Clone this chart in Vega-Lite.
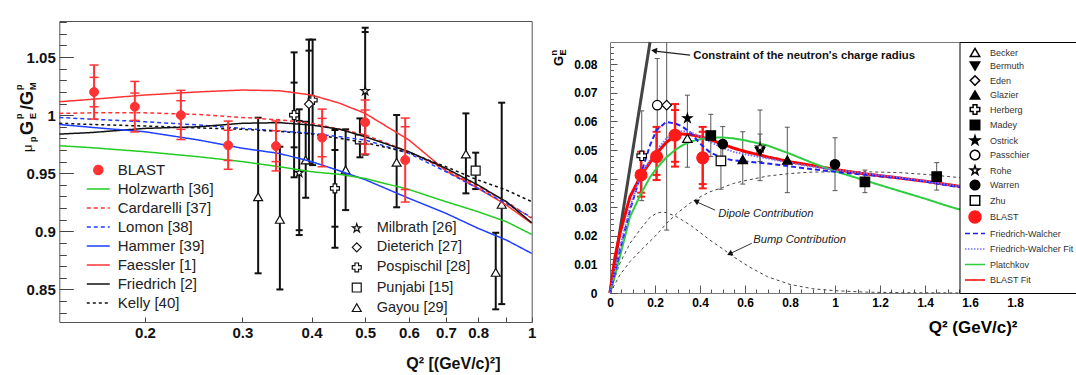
{
"$schema": "https://vega.github.io/schema/vega-lite/v6.json",
"width": 1076, "height": 375, "padding": 0, "autosize": {"type": "none"},
"background": "white",
"config": {"font": "Liberation Sans", "view": {"stroke": null}, "axis": {"grid": false, "labelFlush": false, "labelOverlap": false}},
"datasets": {
"lcurves": [
{"model":"Faessler [1]","q":0.14,"v":1.0115},{"model":"Faessler [1]","q":0.16,"v":1.0136},{"model":"Faessler [1]","q":0.2,"v":1.0173},{"model":"Faessler [1]","q":0.25,"v":1.02},{"model":"Faessler [1]","q":0.3,"v":1.0216},{"model":"Faessler [1]","q":0.35,"v":1.021},{"model":"Faessler [1]","q":0.4,"v":1.0173},{"model":"Faessler [1]","q":0.45,"v":1.0102},{"model":"Faessler [1]","q":0.5,"v":1.0015},{"model":"Faessler [1]","q":0.6,"v":0.9786},{"model":"Faessler [1]","q":0.7,"v":0.952},{"model":"Faessler [1]","q":0.8,"v":0.937},{"model":"Faessler [1]","q":0.9,"v":0.9226},{"model":"Faessler [1]","q":1.0,"v":0.9069},
{"model":"Cardarelli [37]","q":0.14,"v":1.0015},{"model":"Cardarelli [37]","q":0.16,"v":1.002},{"model":"Cardarelli [37]","q":0.2,"v":1.002},{"model":"Cardarelli [37]","q":0.25,"v":1.0005},{"model":"Cardarelli [37]","q":0.3,"v":0.998},{"model":"Cardarelli [37]","q":0.35,"v":0.996},{"model":"Cardarelli [37]","q":0.4,"v":0.993},{"model":"Cardarelli [37]","q":0.45,"v":0.9878},{"model":"Cardarelli [37]","q":0.5,"v":0.983},{"model":"Cardarelli [37]","q":0.6,"v":0.9685},{"model":"Cardarelli [37]","q":0.7,"v":0.9528},{"model":"Cardarelli [37]","q":0.8,"v":0.9384},{"model":"Cardarelli [37]","q":0.9,"v":0.9255},{"model":"Cardarelli [37]","q":1.0,"v":0.9112},
{"model":"Lomon [38]","q":0.14,"v":0.998},{"model":"Lomon [38]","q":0.16,"v":0.9965},{"model":"Lomon [38]","q":0.2,"v":0.9943},{"model":"Lomon [38]","q":0.25,"v":0.9915},{"model":"Lomon [38]","q":0.3,"v":0.9886},{"model":"Lomon [38]","q":0.35,"v":0.9863},{"model":"Lomon [38]","q":0.4,"v":0.9843},{"model":"Lomon [38]","q":0.45,"v":0.9814},{"model":"Lomon [38]","q":0.5,"v":0.9786},{"model":"Lomon [38]","q":0.6,"v":0.9671},{"model":"Lomon [38]","q":0.7,"v":0.9513},{"model":"Lomon [38]","q":0.8,"v":0.937},{"model":"Lomon [38]","q":0.9,"v":0.924},{"model":"Lomon [38]","q":1.0,"v":0.912},
{"model":"Kelly [40]","q":0.14,"v":0.993},{"model":"Kelly [40]","q":0.16,"v":0.992},{"model":"Kelly [40]","q":0.2,"v":0.9906},{"model":"Kelly [40]","q":0.25,"v":0.989},{"model":"Kelly [40]","q":0.3,"v":0.9878},{"model":"Kelly [40]","q":0.35,"v":0.986},{"model":"Kelly [40]","q":0.4,"v":0.9837},{"model":"Kelly [40]","q":0.45,"v":0.98},{"model":"Kelly [40]","q":0.5,"v":0.9763},{"model":"Kelly [40]","q":0.6,"v":0.9677},{"model":"Kelly [40]","q":0.7,"v":0.9556},{"model":"Kelly [40]","q":0.8,"v":0.9441},{"model":"Kelly [40]","q":0.9,"v":0.9355},{"model":"Kelly [40]","q":1.0,"v":0.9255},
{"model":"Friedrich [2]","q":0.14,"v":0.9837},{"model":"Friedrich [2]","q":0.16,"v":0.985},{"model":"Friedrich [2]","q":0.2,"v":0.9886},{"model":"Friedrich [2]","q":0.25,"v":0.99},{"model":"Friedrich [2]","q":0.3,"v":0.993},{"model":"Friedrich [2]","q":0.35,"v":0.9935},{"model":"Friedrich [2]","q":0.4,"v":0.9915},{"model":"Friedrich [2]","q":0.45,"v":0.9878},{"model":"Friedrich [2]","q":0.5,"v":0.9814},{"model":"Friedrich [2]","q":0.6,"v":0.9685},{"model":"Friedrich [2]","q":0.7,"v":0.9542},{"model":"Friedrich [2]","q":0.8,"v":0.9398},{"model":"Friedrich [2]","q":0.9,"v":0.9255},{"model":"Friedrich [2]","q":1.0,"v":0.9074},
{"model":"Hammer [39]","q":0.14,"v":0.992},{"model":"Hammer [39]","q":0.16,"v":0.9895},{"model":"Hammer [39]","q":0.2,"v":0.9857},{"model":"Hammer [39]","q":0.25,"v":0.9786},{"model":"Hammer [39]","q":0.3,"v":0.9715},{"model":"Hammer [39]","q":0.35,"v":0.967},{"model":"Hammer [39]","q":0.4,"v":0.96},{"model":"Hammer [39]","q":0.45,"v":0.952},{"model":"Hammer [39]","q":0.5,"v":0.9445},{"model":"Hammer [39]","q":0.6,"v":0.9284},{"model":"Hammer [39]","q":0.7,"v":0.9155},{"model":"Hammer [39]","q":0.8,"v":0.9026},{"model":"Hammer [39]","q":0.9,"v":0.8925},{"model":"Hammer [39]","q":1.0,"v":0.881},
{"model":"Holzwarth [36]","q":0.14,"v":0.9737},{"model":"Holzwarth [36]","q":0.16,"v":0.972},{"model":"Holzwarth [36]","q":0.2,"v":0.9685},{"model":"Holzwarth [36]","q":0.25,"v":0.9642},{"model":"Holzwarth [36]","q":0.3,"v":0.96},{"model":"Holzwarth [36]","q":0.35,"v":0.9556},{"model":"Holzwarth [36]","q":0.4,"v":0.9513},{"model":"Holzwarth [36]","q":0.45,"v":0.949},{"model":"Holzwarth [36]","q":0.5,"v":0.9455},{"model":"Holzwarth [36]","q":0.6,"v":0.936},{"model":"Holzwarth [36]","q":0.7,"v":0.9255},{"model":"Holzwarth [36]","q":0.8,"v":0.9169},{"model":"Holzwarth [36]","q":0.9,"v":0.9083},{"model":"Holzwarth [36]","q":1.0,"v":0.8974}
],
"lblast": [
{"model":"BLAST","q":0.1618,"v":1.0199,"lo":0.9966,"hi":1.0431,"ilo":1.0072,"ihi":1.0325},
{"model":"BLAST","q":0.1917,"v":1.0072,"lo":0.9855,"hi":1.029,"ilo":0.9955,"ihi":1.019},
{"model":"BLAST","q":0.2322,"v":1.0,"lo":0.979,"hi":1.0213,"ilo":0.9878,"ihi":1.0124},
{"model":"BLAST","q":0.2827,"v":0.974,"lo":0.9534,"hi":0.9949,"ilo":0.961,"ihi":0.987},
{"model":"BLAST","q":0.345,"v":0.9734,"lo":0.952,"hi":0.995,"ilo":0.96,"ihi":0.9866},
{"model":"BLAST","q":0.418,"v":0.9806,"lo":0.9556,"hi":1.0052,"ilo":0.9642,"ihi":0.9972},
{"model":"BLAST","q":0.5,"v":0.9938,"lo":0.9665,"hi":1.013,"ilo":0.975,"ihi":1.0044},
{"model":"BLAST","q":0.5907,"v":0.9614,"lo":0.9252,"hi":0.9975,"ilo":0.936,"ihi":0.99}
],
"lexp": [
{"exp":"Gayou [29]","q":0.3203,"v":0.9298,"lo":0.8639,"hi":0.9978},
{"exp":"Gayou [29]","q":0.3506,"v":0.9103,"lo":0.85,"hi":0.9728},
{"exp":"Gayou [29]","q":0.3904,"v":0.9614,"lo":0.9289,"hi":0.9943},
{"exp":"Gayou [29]","q":0.461,"v":0.9528,"lo":0.9183,"hi":0.9878},
{"exp":"Gayou [29]","q":0.57,"v":0.9594,"lo":0.9207,"hi":1.0001},
{"exp":"Gayou [29]","q":0.7605,"v":0.9665,"lo":0.9327,"hi":1.0015},
{"exp":"Gayou [29]","q":0.8827,"v":0.9232,"lo":0.8374,"hi":1.0107},
{"exp":"Gayou [29]","q":0.861,"v":0.8647,"lo":0.8329,"hi":0.8988},
{"exp":"Punjabi [15]","q":0.792,"v":0.9522,"lo":0.9364,"hi":0.9677},
{"exp":"Punjabi [15]","q":0.4892,"v":0.9792,"lo":0.9637,"hi":0.9972},
{"exp":"Pospischil [28]","q":0.372,"v":1.0,"lo":0.9465,"hi":1.054,"ilo":0.9723,"ihi":1.028},
{"exp":"Pospischil [28]","q":0.4409,"v":0.937,"lo":0.8859,"hi":0.9872,"ilo":0.904,"ihi":0.97},
{"exp":"Pospischil [28]","q":0.4018,"v":1.013,"lo":0.957,"hi":1.065},
{"exp":"Dieterich [27]","q":0.3957,"v":1.0095,"lo":0.9585,"hi":1.065,"ihi":1.0555},
{"exp":"Milbrath [26]","q":0.38,"v":0.9504,"lo":0.8968,"hi":1.005,"ilo":0.901,"ihi":0.995},
{"exp":"Milbrath [26]","q":0.5,"v":1.0207,"lo":0.966,"hi":1.0752,"ihi":1.0715}
],
"rcurves": [
{"series":"BLAST Fit","x":0,"y":0},{"series":"BLAST Fit","x":0.022,"y":0.0125},{"series":"BLAST Fit","x":0.044,"y":0.0208},{"series":"BLAST Fit","x":0.089,"y":0.0337},{"series":"BLAST Fit","x":0.138,"y":0.0412},{"series":"BLAST Fit","x":0.178,"y":0.0457},{"series":"BLAST Fit","x":0.207,"y":0.0488},{"series":"BLAST Fit","x":0.25,"y":0.0527},{"series":"BLAST Fit","x":0.289,"y":0.0549},{"series":"BLAST Fit","x":0.32,"y":0.0556},{"series":"BLAST Fit","x":0.356,"y":0.0554},{"series":"BLAST Fit","x":0.4,"y":0.0547},{"series":"BLAST Fit","x":0.444,"y":0.0537},{"series":"BLAST Fit","x":0.5,"y":0.0521},{"series":"BLAST Fit","x":0.548,"y":0.0507},{"series":"BLAST Fit","x":0.6,"y":0.0495},{"series":"BLAST Fit","x":0.7,"y":0.0476},{"series":"BLAST Fit","x":0.8,"y":0.0459},{"series":"BLAST Fit","x":0.9,"y":0.0446},{"series":"BLAST Fit","x":1.0,"y":0.0432},{"series":"BLAST Fit","x":1.14,"y":0.0416},{"series":"BLAST Fit","x":1.29,"y":0.0402},{"series":"BLAST Fit","x":1.4,"y":0.0391},{"series":"BLAST Fit","x":1.51,"y":0.0378},{"series":"BLAST Fit","x":1.6,"y":0.0368},
{"series":"Platchkov","x":0,"y":0},{"series":"Platchkov","x":0.022,"y":0.006},{"series":"Platchkov","x":0.044,"y":0.0127},{"series":"Platchkov","x":0.089,"y":0.0267},{"series":"Platchkov","x":0.138,"y":0.0348},{"series":"Platchkov","x":0.178,"y":0.0405},{"series":"Platchkov","x":0.207,"y":0.0436},{"series":"Platchkov","x":0.25,"y":0.0474},{"series":"Platchkov","x":0.289,"y":0.05},{"series":"Platchkov","x":0.32,"y":0.0516},{"series":"Platchkov","x":0.356,"y":0.0529},{"series":"Platchkov","x":0.4,"y":0.0538},{"series":"Platchkov","x":0.444,"y":0.0543},{"series":"Platchkov","x":0.5,"y":0.0544},{"series":"Platchkov","x":0.548,"y":0.0541},{"series":"Platchkov","x":0.6,"y":0.0534},{"series":"Platchkov","x":0.7,"y":0.0516},{"series":"Platchkov","x":0.8,"y":0.0487},{"series":"Platchkov","x":0.9,"y":0.0455},{"series":"Platchkov","x":1.0,"y":0.0426},{"series":"Platchkov","x":1.14,"y":0.0392},{"series":"Platchkov","x":1.29,"y":0.0356},{"series":"Platchkov","x":1.4,"y":0.033},{"series":"Platchkov","x":1.51,"y":0.0302},{"series":"Platchkov","x":1.6,"y":0.0282},
{"series":"Friedrich-Walcher","x":0,"y":0},{"series":"Friedrich-Walcher","x":0.022,"y":0.0072},{"series":"Friedrich-Walcher","x":0.044,"y":0.015},{"series":"Friedrich-Walcher","x":0.089,"y":0.029},{"series":"Friedrich-Walcher","x":0.138,"y":0.0418},{"series":"Friedrich-Walcher","x":0.178,"y":0.0517},{"series":"Friedrich-Walcher","x":0.207,"y":0.057},{"series":"Friedrich-Walcher","x":0.25,"y":0.0598},{"series":"Friedrich-Walcher","x":0.289,"y":0.0593},{"series":"Friedrich-Walcher","x":0.32,"y":0.0583},{"series":"Friedrich-Walcher","x":0.356,"y":0.0562},{"series":"Friedrich-Walcher","x":0.4,"y":0.0523},{"series":"Friedrich-Walcher","x":0.444,"y":0.0492},{"series":"Friedrich-Walcher","x":0.5,"y":0.0472},{"series":"Friedrich-Walcher","x":0.548,"y":0.0464},{"series":"Friedrich-Walcher","x":0.6,"y":0.046},{"series":"Friedrich-Walcher","x":0.7,"y":0.0453},{"series":"Friedrich-Walcher","x":0.8,"y":0.0443},{"series":"Friedrich-Walcher","x":0.9,"y":0.0433},{"series":"Friedrich-Walcher","x":1.0,"y":0.0424},{"series":"Friedrich-Walcher","x":1.14,"y":0.0413},{"series":"Friedrich-Walcher","x":1.29,"y":0.0401},{"series":"Friedrich-Walcher","x":1.4,"y":0.039},{"series":"Friedrich-Walcher","x":1.51,"y":0.0375},{"series":"Friedrich-Walcher","x":1.6,"y":0.0366},
{"series":"Friedrich-Walcher Fit","x":0,"y":0},{"series":"Friedrich-Walcher Fit","x":0.022,"y":0.008},{"series":"Friedrich-Walcher Fit","x":0.044,"y":0.016},{"series":"Friedrich-Walcher Fit","x":0.089,"y":0.03},{"series":"Friedrich-Walcher Fit","x":0.138,"y":0.0418},{"series":"Friedrich-Walcher Fit","x":0.178,"y":0.0465},{"series":"Friedrich-Walcher Fit","x":0.207,"y":0.05},{"series":"Friedrich-Walcher Fit","x":0.25,"y":0.054},{"series":"Friedrich-Walcher Fit","x":0.289,"y":0.0562},{"series":"Friedrich-Walcher Fit","x":0.32,"y":0.0566},{"series":"Friedrich-Walcher Fit","x":0.356,"y":0.0563},{"series":"Friedrich-Walcher Fit","x":0.4,"y":0.0548},{"series":"Friedrich-Walcher Fit","x":0.444,"y":0.0529},{"series":"Friedrich-Walcher Fit","x":0.5,"y":0.0508},{"series":"Friedrich-Walcher Fit","x":0.548,"y":0.0494},{"series":"Friedrich-Walcher Fit","x":0.6,"y":0.0485},{"series":"Friedrich-Walcher Fit","x":0.7,"y":0.0471},{"series":"Friedrich-Walcher Fit","x":0.8,"y":0.0455},{"series":"Friedrich-Walcher Fit","x":0.9,"y":0.0442},{"series":"Friedrich-Walcher Fit","x":1.0,"y":0.0431},{"series":"Friedrich-Walcher Fit","x":1.14,"y":0.0418},{"series":"Friedrich-Walcher Fit","x":1.29,"y":0.0404},{"series":"Friedrich-Walcher Fit","x":1.4,"y":0.0392},{"series":"Friedrich-Walcher Fit","x":1.51,"y":0.0378},{"series":"Friedrich-Walcher Fit","x":1.6,"y":0.0369}
],
"rcontrib": [
{"part":"Dipole","x":0,"y":0},{"part":"Dipole","x":0.044,"y":0.0063},{"part":"Dipole","x":0.089,"y":0.011},{"part":"Dipole","x":0.138,"y":0.015},{"part":"Dipole","x":0.2,"y":0.0198},{"part":"Dipole","x":0.252,"y":0.0244},{"part":"Dipole","x":0.3,"y":0.028},{"part":"Dipole","x":0.356,"y":0.0314},{"part":"Dipole","x":0.4,"y":0.0336},{"part":"Dipole","x":0.444,"y":0.0354},{"part":"Dipole","x":0.5,"y":0.0369},{"part":"Dipole","x":0.548,"y":0.0383},{"part":"Dipole","x":0.6,"y":0.0393},{"part":"Dipole","x":0.7,"y":0.0409},{"part":"Dipole","x":0.8,"y":0.0418},{"part":"Dipole","x":0.9,"y":0.0423},{"part":"Dipole","x":1.0,"y":0.0424},{"part":"Dipole","x":1.14,"y":0.0424},{"part":"Dipole","x":1.29,"y":0.0421},{"part":"Dipole","x":1.4,"y":0.0415},{"part":"Dipole","x":1.51,"y":0.0407},{"part":"Dipole","x":1.6,"y":0.04},
{"part":"Bump","x":0,"y":0},{"part":"Bump","x":0.022,"y":0.0055},{"part":"Bump","x":0.044,"y":0.0104},{"part":"Bump","x":0.089,"y":0.0174},{"part":"Bump","x":0.138,"y":0.0226},{"part":"Bump","x":0.178,"y":0.0265},{"part":"Bump","x":0.207,"y":0.0279},{"part":"Bump","x":0.23,"y":0.0283},{"part":"Bump","x":0.252,"y":0.0281},{"part":"Bump","x":0.296,"y":0.0267},{"part":"Bump","x":0.356,"y":0.0238},{"part":"Bump","x":0.4,"y":0.0212},{"part":"Bump","x":0.444,"y":0.0185},{"part":"Bump","x":0.5,"y":0.0155},{"part":"Bump","x":0.548,"y":0.0127},{"part":"Bump","x":0.622,"y":0.009},{"part":"Bump","x":0.7,"y":0.0057},{"part":"Bump","x":0.8,"y":0.003},{"part":"Bump","x":0.9,"y":0.0015},{"part":"Bump","x":1.0,"y":0.0008},{"part":"Bump","x":1.14,"y":0.0003},{"part":"Bump","x":1.3,"y":0.0001},{"part":"Bump","x":1.6,"y":0}
],
"rconstraint": [{"x":0,"y":0},{"x":0.178,"y":0.0878}],
"rpts": [
{"series":"Becker","x":0.344,"y":0.0541},
{"series":"Bermuth","x":0.667,"y":0.0494,"lo":0.0393,"hi":0.064},
{"series":"Eden","x":0.252,"y":0.0657,"lo":0.022,"hi":0.0877},
{"series":"Glazier","x":0.59,"y":0.0467,"lo":0.0381,"hi":0.0564},
{"series":"Glazier","x":0.788,"y":0.0465,"lo":0.0351,"hi":0.058},
{"series":"Herberg","x":0.141,"y":0.048,"lo":0.0323,"hi":0.0637},
{"series":"Madey","x":0.448,"y":0.0551,"lo":0.0477,"hi":0.0625},
{"series":"Madey","x":1.133,"y":0.0389,"lo":0.0351,"hi":0.043},
{"series":"Madey","x":1.452,"y":0.0407,"lo":0.036,"hi":0.0456},
{"series":"Ostrick","x":0.344,"y":0.0611,"lo":0.044,"hi":0.0692},
{"series":"Passchier","x":0.21,"y":0.0657,"lo":0.049,"hi":0.082},
{"series":"Rohe","x":0.667,"y":0.0509,"lo":0.046,"hi":0.0556},
{"series":"Warren","x":0.501,"y":0.0521,"lo":0.046,"hi":0.0582},
{"series":"Warren","x":1.0,"y":0.045,"lo":0.0358,"hi":0.0543},
{"series":"Zhu","x":0.493,"y":0.0462,"lo":0.0363,"hi":0.0527},
{"series":"BLAST","x":0.138,"y":0.0413,"lo":0.0337,"hi":0.0494,"ilo":0.0351,"ihi":0.0479},
{"series":"BLAST","x":0.207,"y":0.0477,"lo":0.0395,"hi":0.0581,"ilo":0.0413,"ihi":0.0564},
{"series":"BLAST","x":0.289,"y":0.0552,"lo":0.0442,"hi":0.0661,"ilo":0.0459,"ihi":0.064},
{"series":"BLAST","x":0.412,"y":0.0473,"lo":0.0366,"hi":0.0581,"ilo":0.0381,"ihi":0.0564}
]
},
"layer": [
{
"layer": [
{
"data": {"name": "lexp"},
"layer": [
{"mark": {"type": "rule", "color": "#111", "strokeWidth": 2},
 "encoding": {"x": {"field": "q", "type": "quantitative", "scale": {"type": "log", "domain": [0.14, 1], "range": [59.3, 531.7], "nice": false}, "axis": null},
  "y": {"field": "lo", "type": "quantitative", "scale": {"domain": [0.822, 1.081], "range": [322, 21], "nice": false, "zero": false}, "axis": null},
  "y2": {"field": "hi"}}},
{"transform": [{"fold": ["lo", "hi", "ilo", "ihi"], "as": ["k", "cap"]}, {"filter": "datum.cap != null"}],
 "mark": {"type": "point", "shape": "stroke", "size": 49, "stroke": "#111", "strokeWidth": 2, "opacity": 1},
 "encoding": {"x": {"field": "q", "type": "quantitative", "scale": {"type": "log", "domain": [0.14, 1], "range": [59.3, 531.7], "nice": false}, "axis": null},
  "y": {"field": "cap", "type": "quantitative", "scale": {"domain": [0.822, 1.081], "range": [322, 21], "nice": false, "zero": false}, "axis": null}}},
{"mark": {"type": "point", "filled": true, "strokeWidth": 1.2, "size": 80, "opacity": 1},
 "encoding": {"x": {"field": "q", "type": "quantitative", "scale": {"type": "log", "domain": [0.14, 1], "range": [59.3, 531.7], "nice": false}, "axis": null},
  "y": {"field": "v", "type": "quantitative", "scale": {"domain": [0.822, 1.081], "range": [322, 21], "nice": false, "zero": false}, "axis": null},
  "shape": {"field": "exp", "type": "nominal",
   "scale": {"domain": ["Milbrath [26]", "Dieterich [27]", "Pospischil [28]", "Punjabi [15]", "Gayou [29]"],
    "range": ["M0,-1L0.2245,-0.309L0.9511,-0.309L0.3633,0.118L0.5878,0.809L0,0.382L-0.5878,0.809L-0.3633,0.118L-0.9511,-0.309L-0.2245,-0.309Z", "diamond", "cross", "square", "triangle-up"]},
   "legend": {"orient": "none", "legendX": 349.5, "legendY": 221, "title": null, "padding": 0, "rowPadding": 4.1, "labelFontSize": 14.5, "labelColor": "#222", "labelOffset": 12.7, "symbolSize": 80, "symbolStrokeWidth": 1.2, "symbolFillColor": "white", "symbolStrokeColor": "#111", "labelLimit": 0}},
  "fill": {"field": "exp", "type": "nominal",
   "scale": {"domain": ["Milbrath [26]", "Dieterich [27]", "Pospischil [28]", "Punjabi [15]", "Gayou [29]"], "range": ["white", "white", "white", "white", "white"]},
   "legend": {"orient": "none", "legendX": 349.5, "legendY": 221, "title": null, "padding": 0, "rowPadding": 4.1, "labelFontSize": 14.5, "labelColor": "#222", "labelOffset": 12.7, "symbolSize": 80, "symbolStrokeWidth": 1.2, "symbolFillColor": "white", "symbolStrokeColor": "#111", "labelLimit": 0}},
  "stroke": {"field": "exp", "type": "nominal",
   "scale": {"domain": ["Milbrath [26]", "Dieterich [27]", "Pospischil [28]", "Punjabi [15]", "Gayou [29]"], "range": ["#111", "#111", "#111", "#111", "#111"]},
   "legend": {"orient": "none", "legendX": 349.5, "legendY": 221, "title": null, "padding": 0, "rowPadding": 4.1, "labelFontSize": 14.5, "labelColor": "#222", "labelOffset": 12.7, "symbolSize": 80, "symbolStrokeWidth": 1.2, "symbolFillColor": "white", "symbolStrokeColor": "#111", "labelLimit": 0}}}}
]
},
{
"layer": [
{"data": {"name": "lcurves"},
 "mark": {"type": "line", "strokeWidth": 1.5},
 "encoding": {
  "x": {"field": "q", "type": "quantitative", "scale": {"type": "log", "domain": [0.14, 1], "range": [59.3, 531.7], "nice": false},
   "axis": {"orient": "bottom", "offset": -53, "values": [0.2, 0.3, 0.4, 0.5, 0.6, 0.7, 0.8, 0.9, 1], "format": "~g", "labelExpr": "datum.value > 0.85 && datum.value < 0.95 ? '' : datum.label", "tickSize": -5, "tickColor": "#444", "domainColor": "#555", "labelFontWeight": "bold", "labelFontSize": 15, "labelColor": "#111", "labelPadding": 8, "labelFlush": false, "labelOverlap": false, "grid": false, "title": "Q²  [(GeV/c)²]", "titleX": 500, "titleY": 41, "titleAlign": "right", "titleBaseline": "middle", "titleFontSize": 16, "titleFontWeight": "bold", "titleColor": "#111", "titleAngle": 0}},
  "y": {"field": "v", "type": "quantitative", "scale": {"domain": [0.822, 1.081], "range": [322, 21], "nice": false, "zero": false},
   "axis": {"orient": "left", "offset": -59.3, "values": [0.85, 0.9, 0.95, 1, 1.05], "format": "~g", "tickSize": -14, "tickColor": "#444", "domainColor": "#555", "labelFontWeight": "bold", "labelFontSize": 15, "labelColor": "#111", "labelPadding": 18, "labelFlush": false, "labelOverlap": false, "grid": false, "title": null}},
  "stroke": {"field": "model", "type": "nominal",
   "scale": {"domain": ["BLAST", "Holzwarth [36]", "Cardarelli [37]", "Lomon [38]", "Hammer [39]", "Faessler [1]", "Friedrich [2]", "Kelly [40]"], "range": ["#ff3333", "#22cc22", "#ff3333", "#1f3fff", "#1f3fff", "#ff3333", "#111111", "#111111"]},
   "legend": {"orient": "none", "legendX": 86.8, "legendY": 162.5, "title": null, "padding": 0, "rowPadding": 3, "labelFontSize": 15, "labelColor": "#222", "labelOffset": 11.9, "symbolSize": 80, "symbolOffset": 4, "symbolStrokeWidth": 1.5, "symbolFillColor": "transparent", "symbolStrokeColor": "#000", "labelLimit": 0}},
  "strokeDash": {"field": "model", "type": "nominal",
   "scale": {"domain": ["BLAST", "Holzwarth [36]", "Cardarelli [37]", "Lomon [38]", "Hammer [39]", "Faessler [1]", "Friedrich [2]", "Kelly [40]"], "range": [[1, 0], [1, 0], [4, 3], [4, 3], [1, 0], [1, 0], [1, 0], [3, 3]]},
   "legend": {"orient": "none", "legendX": 86.8, "legendY": 162.5, "title": null, "padding": 0, "rowPadding": 3, "labelFontSize": 15, "labelColor": "#222", "labelOffset": 11.9, "symbolSize": 80, "symbolOffset": 4, "symbolStrokeWidth": 1.5, "symbolFillColor": "transparent", "symbolStrokeColor": "#000", "labelLimit": 0}}
 }},
{"data": {"name": "lblast"},
 "mark": {"type": "rule", "color": "#ff3333", "strokeWidth": 2},
 "encoding": {
  "x": {"field": "q", "type": "quantitative", "scale": {"type": "log", "domain": [0.14, 1], "range": [59.3, 531.7], "nice": false},
   "axis": {"orient": "top", "offset": -21, "ticks": false, "labels": false, "domain": true, "domainColor": "#555", "grid": false, "title": null}},
  "y": {"field": "lo", "type": "quantitative", "scale": {"domain": [0.822, 1.081], "range": [322, 21], "nice": false, "zero": false},
   "axis": {"orient": "left", "offset": -59.3, "values": [0.83, 0.84, 0.86, 0.87, 0.88, 0.89, 0.91, 0.92, 0.93, 0.94, 0.96, 0.97, 0.98, 0.99, 1.01, 1.02, 1.03, 1.04, 1.06, 1.07, 1.08], "tickSize": -7, "tickColor": "#444", "labels": false, "domain": false, "grid": false, "title": null}},
  "y2": {"field": "hi"}
 }},
{"data": {"name": "lblast"},
 "transform": [{"fold": ["lo", "hi", "ilo", "ihi"], "as": ["k", "cap"]}, {"filter": "datum.cap != null"}],
 "mark": {"type": "point", "shape": "stroke", "size": 81, "stroke": "#ff3333", "strokeWidth": 1.5, "opacity": 1},
 "encoding": {
  "x": {"field": "q", "type": "quantitative", "scale": {"type": "log", "domain": [0.14, 1], "range": [59.3, 531.7], "nice": false}, "axis": null},
  "y": {"field": "cap", "type": "quantitative", "scale": {"domain": [0.822, 1.081], "range": [322, 21], "nice": false, "zero": false},
   "axis": {"orient": "right", "offset": -544.3, "ticks": false, "labels": false, "domain": true, "domainColor": "#555", "grid": false, "title": null}}
 }},
{"data": {"name": "lblast"},
 "mark": {"type": "point", "filled": true, "size": 80, "strokeWidth": 1, "opacity": 1},
 "encoding": {
  "x": {"field": "q", "type": "quantitative", "scale": {"type": "log", "domain": [0.14, 1], "range": [59.3, 531.7], "nice": false}, "axis": null},
  "y": {"field": "v", "type": "quantitative", "scale": {"domain": [0.822, 1.081], "range": [322, 21], "nice": false, "zero": false}, "axis": null},
  "shape": {"field": "model", "type": "nominal",
   "scale": {"domain": ["BLAST", "Holzwarth [36]", "Cardarelli [37]", "Lomon [38]", "Hammer [39]", "Faessler [1]", "Friedrich [2]", "Kelly [40]"], "range": ["circle", "M-2.57,0L2.57,0", "M-2.57,0L2.57,0", "M-2.57,0L2.57,0", "M-2.57,0L2.57,0", "M-2.57,0L2.57,0", "M-2.57,0L2.57,0", "M-2.57,0L2.57,0"]},
   "legend": {"orient": "none", "legendX": 86.8, "legendY": 162.5, "title": null, "padding": 0, "rowPadding": 3, "labelFontSize": 15, "labelColor": "#222", "labelOffset": 11.9, "symbolSize": 80, "symbolOffset": 4, "symbolStrokeWidth": 1.5, "symbolFillColor": "transparent", "symbolStrokeColor": "#000", "labelLimit": 0}},
  "fill": {"field": "model", "type": "nominal",
   "scale": {"domain": ["BLAST", "Holzwarth [36]", "Cardarelli [37]", "Lomon [38]", "Hammer [39]", "Faessler [1]", "Friedrich [2]", "Kelly [40]"], "range": ["#ff3333", "transparent", "transparent", "transparent", "transparent", "transparent", "transparent", "transparent"]},
   "legend": {"orient": "none", "legendX": 86.8, "legendY": 162.5, "title": null, "padding": 0, "rowPadding": 3, "labelFontSize": 15, "labelColor": "#222", "labelOffset": 11.9, "symbolSize": 80, "symbolOffset": 4, "symbolStrokeWidth": 1.5, "symbolFillColor": "transparent", "symbolStrokeColor": "#000", "labelLimit": 0}},
  "stroke": {"field": "model", "type": "nominal",
   "scale": {"domain": ["BLAST", "Holzwarth [36]", "Cardarelli [37]", "Lomon [38]", "Hammer [39]", "Faessler [1]", "Friedrich [2]", "Kelly [40]"], "range": ["#ff3333", "#22cc22", "#ff3333", "#1f3fff", "#1f3fff", "#ff3333", "#111111", "#111111"]},
   "legend": {"orient": "none", "legendX": 86.8, "legendY": 162.5, "title": null, "padding": 0, "rowPadding": 3, "labelFontSize": 15, "labelColor": "#222", "labelOffset": 11.9, "symbolSize": 80, "symbolOffset": 4, "symbolStrokeWidth": 1.5, "symbolFillColor": "transparent", "symbolStrokeColor": "#000", "labelLimit": 0}}
 }}
],
"resolve": {"axis": {"x": "independent", "y": "independent"}}
},
{"data": {"values": [{}]}, "mark": {"type": "text", "text": "μ", "angle": 270, "align": "left", "baseline": "alphabetic", "fontSize": 13, "dx": 0, "dy": -1, "color": "#111"},
 "encoding": {"x": {"datum": 0.1254, "type": "quantitative", "scale": {"type": "log", "domain": [0.14, 1], "range": [59.3, 531.7], "nice": false}, "axis": null}, "y": {"datum": 0.9682, "type": "quantitative", "scale": {"domain": [0.822, 1.081], "range": [322, 21], "nice": false, "zero": false}, "axis": null}}},
{"data": {"values": [{}]}, "mark": {"type": "text", "text": "p", "angle": 270, "align": "left", "baseline": "alphabetic", "fontSize": 9, "fontWeight": "bold", "dx": 10, "dy": 3, "color": "#111"},
 "encoding": {"x": {"datum": 0.1254, "type": "quantitative", "axis": null}, "y": {"datum": 0.9682, "type": "quantitative", "axis": null}}},
{"data": {"values": [{}]}, "mark": {"type": "text", "text": "G", "angle": 270, "align": "left", "baseline": "alphabetic", "fontSize": 18, "fontWeight": "bold", "dx": 17, "dy": 0, "color": "#111"},
 "encoding": {"x": {"datum": 0.1254, "type": "quantitative", "axis": null}, "y": {"datum": 0.9682, "type": "quantitative", "axis": null}}},
{"data": {"values": [{}]}, "mark": {"type": "text", "text": "E", "angle": 270, "align": "left", "baseline": "alphabetic", "fontSize": 9, "fontWeight": "bold", "dx": 33, "dy": 3.5, "color": "#111"},
 "encoding": {"x": {"datum": 0.1254, "type": "quantitative", "axis": null}, "y": {"datum": 0.9682, "type": "quantitative", "axis": null}}},
{"data": {"values": [{}]}, "mark": {"type": "text", "text": "p", "angle": 270, "align": "left", "baseline": "alphabetic", "fontSize": 9, "fontWeight": "bold", "dx": 33, "dy": -11, "color": "#111"},
 "encoding": {"x": {"datum": 0.1254, "type": "quantitative", "axis": null}, "y": {"datum": 0.9682, "type": "quantitative", "axis": null}}},
{"data": {"values": [{}]}, "mark": {"type": "text", "text": "/G", "angle": 270, "align": "left", "baseline": "alphabetic", "fontSize": 18, "fontWeight": "bold", "dx": 42, "dy": 0, "color": "#111"},
 "encoding": {"x": {"datum": 0.1254, "type": "quantitative", "axis": null}, "y": {"datum": 0.9682, "type": "quantitative", "axis": null}}},
{"data": {"values": [{}]}, "mark": {"type": "text", "text": "M", "angle": 270, "align": "left", "baseline": "alphabetic", "fontSize": 9, "fontWeight": "bold", "dx": 62, "dy": 3.5, "color": "#111"},
 "encoding": {"x": {"datum": 0.1254, "type": "quantitative", "axis": null}, "y": {"datum": 0.9682, "type": "quantitative", "axis": null}}},
{"data": {"values": [{}]}, "mark": {"type": "text", "text": "p", "angle": 270, "align": "left", "baseline": "alphabetic", "fontSize": 9, "fontWeight": "bold", "dx": 62, "dy": -11, "color": "#111"},
 "encoding": {"x": {"datum": 0.1254, "type": "quantitative", "axis": null}, "y": {"datum": 0.9682, "type": "quantitative", "axis": null}}}
],
"resolve": {"scale": {"shape": "independent", "stroke": "independent", "fill": "independent", "strokeDash": "independent"}, "axis": {"x": "independent", "y": "independent"}}
},
{
"layer": [
{"data": {"name": "rcontrib"},
 "mark": {"type": "line", "stroke": "#444", "strokeDash": [3, 3], "strokeWidth": 1},
 "encoding": {
  "x": {"field": "x", "type": "quantitative", "scale": {"domain": [0, 1.8], "range": [610, 1015], "nice": false, "zero": false},
   "axis": {"orient": "bottom", "offset": -82, "values": [0.05, 0.1, 0.15, 0.25, 0.3, 0.35, 0.45, 0.5, 0.55, 0.65, 0.7, 0.75, 0.85, 0.9, 0.95, 1.05, 1.1, 1.15, 1.25, 1.3, 1.35, 1.45, 1.5, 1.55, 1.65, 1.7, 1.75], "tickSize": -4, "tickColor": "#555", "labels": false, "domain": false, "grid": false, "title": null}},
  "y": {"field": "y", "type": "quantitative", "scale": {"domain": [0, 0.0878], "range": [293, 42], "nice": false, "zero": false},
   "axis": {"orient": "left", "offset": -610, "values": [0.002, 0.004, 0.006, 0.008, 0.012, 0.014, 0.016, 0.018, 0.022, 0.024, 0.026, 0.028, 0.032, 0.034, 0.036, 0.038, 0.042, 0.044, 0.046, 0.048, 0.052, 0.054, 0.056, 0.058, 0.062, 0.064, 0.066, 0.068, 0.072, 0.074, 0.076, 0.078, 0.082, 0.084, 0.086], "tickSize": -3.5, "tickColor": "#555", "labels": false, "domain": false, "grid": false, "title": null}},
  "detail": {"field": "part", "type": "nominal"}
 }},
{"data": {"name": "rconstraint"},
 "mark": {"type": "line", "stroke": "#444", "strokeWidth": 3},
 "encoding": {
  "x": {"field": "x", "type": "quantitative", "scale": {"domain": [0, 1.8], "range": [610, 1015], "nice": false, "zero": false},
   "axis": {"orient": "top", "offset": -42, "ticks": false, "labels": false, "domain": true, "domainColor": "#777", "grid": false, "title": null}},
  "y": {"field": "y", "type": "quantitative", "scale": {"domain": [0, 0.0878], "range": [293, 42], "nice": false, "zero": false},
   "axis": {"orient": "right", "offset": -61, "ticks": false, "labels": false, "domain": true, "domainColor": "#777", "grid": false, "title": null}}
 }},
{"data": {"name": "rpts"},
 "transform": [{"filter": "datum.lo != null"}],
 "mark": {"type": "rule"},
 "encoding": {
  "x": {"field": "x", "type": "quantitative", "axis": null},
  "y": {"field": "lo", "type": "quantitative", "axis": null},
  "y2": {"field": "hi"},
  "stroke": {"condition": {"test": "datum.series === 'BLAST'", "value": "#ff1a1a"}, "value": "#555"},
  "strokeWidth": {"condition": {"test": "datum.series === 'BLAST'", "value": 2.5}, "value": 1}
 }},
{"data": {"name": "rpts"},
 "transform": [{"fold": ["lo", "hi", "ilo", "ihi"], "as": ["k", "cap"]}, {"filter": "datum.cap != null && datum.cap < 0.087"}],
 "mark": {"type": "point", "shape": "stroke", "opacity": 1},
 "encoding": {
  "x": {"field": "x", "type": "quantitative", "axis": null},
  "y": {"field": "cap", "type": "quantitative", "axis": null},
  "stroke": {"condition": {"test": "datum.series === 'BLAST'", "value": "#ff1a1a"}, "value": "#555"},
  "strokeWidth": {"condition": {"test": "datum.series === 'BLAST'", "value": 2}, "value": 1},
  "size": {"condition": {"test": "datum.series === 'BLAST'", "value": 64}, "value": 25}
 }},
{"data": {"name": "rcurves"},
 "mark": {"type": "line"},
 "encoding": {
  "x": {"field": "x", "type": "quantitative", "scale": {"domain": [0, 1.8], "range": [610, 1015], "nice": false, "zero": false},
   "axis": {"orient": "bottom", "offset": -82, "values": [0, 0.2, 0.4, 0.6, 0.8, 1, 1.2, 1.4, 1.6, 1.8], "format": "~g", "tickSize": -8, "tickColor": "#555", "domainColor": "#777", "labelFontWeight": "bold", "labelFontSize": 12, "labelColor": "#000", "labelPadding": 12.5, "labelFlush": false, "labelOverlap": false, "grid": false, "title": "Q² (GeV/c)²", "titleX": 1017, "titleY": 34, "titleAlign": "right", "titleBaseline": "middle", "titleFontSize": 17, "titleFontWeight": "bold", "titleColor": "#000", "titleAngle": 0}},
  "y": {"field": "y", "type": "quantitative", "scale": {"domain": [0, 0.0878], "range": [293, 42], "nice": false, "zero": false},
   "axis": {"orient": "left", "offset": -610, "values": [0, 0.01, 0.02, 0.03, 0.04, 0.05, 0.06, 0.07, 0.08], "format": "~g", "tickSize": -7, "tickColor": "#555", "domainColor": "#777", "labelFontWeight": "bold", "labelFontSize": 12, "labelColor": "#000", "labelPadding": 20, "labelFlush": false, "labelOverlap": false, "grid": false, "title": null}},
  "stroke": {"field": "series", "type": "nominal",
   "scale": {"domain": ["Becker", "Bermuth", "Eden", "Glazier", "Herberg", "Madey", "Ostrick", "Passchier", "Rohe", "Warren", "Zhu", "BLAST", "Friedrich-Walcher", "Friedrich-Walcher Fit", "Platchkov", "BLAST Fit"],
    "range": ["#000", "#000", "#000", "#000", "#000", "#000", "#000", "#000", "#000", "#000", "#000", "#ff1a1a", "#2020ff", "#7373ff", "#2ecc40", "#ff0000"]},
   "legend": {"orient": "none", "legendX": 959.5, "legendY": 42, "title": null, "padding": 5, "rowPadding": -1.5, "labelFontSize": 9, "labelColor": "#333", "labelOffset": 9.5, "symbolSize": 90, "symbolOffset": 5, "symbolStrokeWidth": 1.5, "symbolFillColor": "transparent", "symbolStrokeColor": "#000", "fillColor": "white", "strokeColor": "#000", "labelLimit": 0}},
  "strokeDash": {"field": "series", "type": "nominal",
   "scale": {"domain": ["Becker", "Bermuth", "Eden", "Glazier", "Herberg", "Madey", "Ostrick", "Passchier", "Rohe", "Warren", "Zhu", "BLAST", "Friedrich-Walcher", "Friedrich-Walcher Fit", "Platchkov", "BLAST Fit"],
    "range": [[1, 0], [1, 0], [1, 0], [1, 0], [1, 0], [1, 0], [1, 0], [1, 0], [1, 0], [1, 0], [1, 0], [1, 0], [5, 3], [1.5, 1.5], [1, 0], [1, 0]]},
   "legend": {"orient": "none", "legendX": 959.5, "legendY": 42, "title": null, "padding": 5, "rowPadding": -1.5, "labelFontSize": 9, "labelColor": "#333", "labelOffset": 9.5, "symbolSize": 90, "symbolOffset": 5, "symbolStrokeWidth": 1.5, "symbolFillColor": "transparent", "symbolStrokeColor": "#000", "fillColor": "white", "strokeColor": "#000", "labelLimit": 0}},
  "strokeWidth": {"condition": {"test": "datum.series === 'BLAST Fit'", "value": 3}, "value": 2}
 }},
{"data": {"name": "rpts"},
 "mark": {"type": "point", "filled": true, "size": 90, "strokeWidth": 1.2, "opacity": 1},
 "encoding": {
  "x": {"field": "x", "type": "quantitative", "axis": null},
  "y": {"field": "y", "type": "quantitative", "axis": null},
  "shape": {"field": "series", "type": "nominal",
   "scale": {"domain": ["Becker", "Bermuth", "Eden", "Glazier", "Herberg", "Madey", "Ostrick", "Passchier", "Rohe", "Warren", "Zhu", "BLAST", "Friedrich-Walcher", "Friedrich-Walcher Fit", "Platchkov", "BLAST Fit"],
    "range": ["triangle-up", "triangle-down", "diamond", "triangle-up", "cross", "square", "M0,-1L0.2245,-0.309L0.9511,-0.309L0.3633,0.118L0.5878,0.809L0,0.382L-0.5878,0.809L-0.3633,0.118L-0.9511,-0.309L-0.2245,-0.309Z", "circle", "M0,-1L0.2245,-0.309L0.9511,-0.309L0.3633,0.118L0.5878,0.809L0,0.382L-0.5878,0.809L-0.3633,0.118L-0.9511,-0.309L-0.2245,-0.309Z", "circle", "square", "M-1.25,0A1.25,1.25,0,1,0,1.25,0A1.25,1.25,0,1,0,-1.25,0Z", "M-2.11,0L2.11,0M0,-1M0,1", "M-2.11,0L2.11,0M0,-1M0,1", "M-2.11,0L2.11,0M0,-1M0,1", "M-2.11,0L2.11,0M0,-1M0,1"]},
   "legend": {"orient": "none", "legendX": 959.5, "legendY": 42, "title": null, "padding": 5, "rowPadding": -1.5, "labelFontSize": 9, "labelColor": "#333", "labelOffset": 9.5, "symbolSize": 90, "symbolOffset": 5, "symbolStrokeWidth": 1.5, "symbolFillColor": "transparent", "symbolStrokeColor": "#000", "fillColor": "white", "strokeColor": "#000", "labelLimit": 0}},
  "fill": {"field": "series", "type": "nominal",
   "scale": {"domain": ["Becker", "Bermuth", "Eden", "Glazier", "Herberg", "Madey", "Ostrick", "Passchier", "Rohe", "Warren", "Zhu", "BLAST", "Friedrich-Walcher", "Friedrich-Walcher Fit", "Platchkov", "BLAST Fit"],
    "range": ["white", "black", "white", "black", "white", "black", "black", "white", "white", "black", "white", "#ff1a1a", "transparent", "transparent", "transparent", "transparent"]},
   "legend": {"orient": "none", "legendX": 959.5, "legendY": 42, "title": null, "padding": 5, "rowPadding": -1.5, "labelFontSize": 9, "labelColor": "#333", "labelOffset": 9.5, "symbolSize": 90, "symbolOffset": 5, "symbolStrokeWidth": 1.5, "symbolFillColor": "transparent", "symbolStrokeColor": "#000", "fillColor": "white", "strokeColor": "#000", "labelLimit": 0}},
  "stroke": {"field": "series", "type": "nominal",
   "scale": {"domain": ["Becker", "Bermuth", "Eden", "Glazier", "Herberg", "Madey", "Ostrick", "Passchier", "Rohe", "Warren", "Zhu", "BLAST", "Friedrich-Walcher", "Friedrich-Walcher Fit", "Platchkov", "BLAST Fit"],
    "range": ["#000", "#000", "#000", "#000", "#000", "#000", "#000", "#000", "#000", "#000", "#000", "#ff1a1a", "#2020ff", "#7373ff", "#2ecc40", "#ff0000"]},
   "legend": {"orient": "none", "legendX": 959.5, "legendY": 42, "title": null, "padding": 5, "rowPadding": -1.5, "labelFontSize": 9, "labelColor": "#333", "labelOffset": 9.5, "symbolSize": 90, "symbolOffset": 5, "symbolStrokeWidth": 1.5, "symbolFillColor": "transparent", "symbolStrokeColor": "#000", "fillColor": "white", "strokeColor": "#000", "labelLimit": 0}}
 }},
{"data": {"values": [{}]}, "mark": {"type": "rule", "color": "#222", "strokeWidth": 1.3},
 "encoding": {"x": {"datum": 0.356, "type": "quantitative", "axis": null}, "y": {"datum": 0.0832, "type": "quantitative", "axis": null}, "x2": {"datum": 0.2}, "y2": {"datum": 0.0846}}},
{"data": {"values": [{}]}, "mark": {"type": "point", "shape": "triangle-left", "size": 45, "filled": true, "color": "#111", "opacity": 1, "angle": 8},
 "encoding": {"x": {"datum": 0.196, "type": "quantitative", "axis": null}, "y": {"datum": 0.0848, "type": "quantitative", "axis": null}}},
{"data": {"values": [{}]}, "mark": {"type": "text", "text": "Constraint of the neutron's charge radius", "align": "left", "baseline": "middle", "fontSize": 11.3, "fontWeight": "bold", "color": "#111"},
 "encoding": {"x": {"datum": 0.37, "type": "quantitative", "axis": null}, "y": {"datum": 0.0829, "type": "quantitative", "axis": null}}},
{"data": {"values": [{}]}, "mark": {"type": "rule", "color": "#333", "strokeWidth": 1},
 "encoding": {"x": {"datum": 0.467, "type": "quantitative", "axis": null}, "y": {"datum": 0.029, "type": "quantitative", "axis": null}, "x2": {"datum": 0.39}, "y2": {"datum": 0.0317}}},
{"data": {"values": [{}]}, "mark": {"type": "point", "shape": "triangle-left", "size": 40, "filled": true, "color": "#111", "opacity": 1, "angle": 25},
 "encoding": {"x": {"datum": 0.382, "type": "quantitative", "axis": null}, "y": {"datum": 0.0321, "type": "quantitative", "axis": null}}},
{"data": {"values": [{}]}, "mark": {"type": "text", "text": "Dipole Contribution", "align": "left", "baseline": "middle", "fontSize": 11.2, "fontStyle": "italic", "color": "#222"},
 "encoding": {"x": {"datum": 0.481, "type": "quantitative", "axis": null}, "y": {"datum": 0.0275, "type": "quantitative", "axis": null}}},
{"data": {"values": [{}]}, "mark": {"type": "rule", "color": "#333", "strokeWidth": 1},
 "encoding": {"x": {"datum": 0.63, "type": "quantitative", "axis": null}, "y": {"datum": 0.0174, "type": "quantitative", "axis": null}, "x2": {"datum": 0.54}, "y2": {"datum": 0.014}}},
{"data": {"values": [{}]}, "mark": {"type": "point", "shape": "triangle-left", "size": 40, "filled": true, "color": "#111", "opacity": 1, "angle": -25},
 "encoding": {"x": {"datum": 0.532, "type": "quantitative", "axis": null}, "y": {"datum": 0.0137, "type": "quantitative", "axis": null}}},
{"data": {"values": [{}]}, "mark": {"type": "text", "text": "Bump Contribution", "align": "left", "baseline": "middle", "fontSize": 11.2, "fontStyle": "italic", "color": "#222"},
 "encoding": {"x": {"datum": 0.637, "type": "quantitative", "axis": null}, "y": {"datum": 0.0185, "type": "quantitative", "axis": null}}},
{"data": {"values": [{}]}, "mark": {"type": "text", "text": "G", "angle": 270, "align": "left", "baseline": "alphabetic", "fontSize": 13, "fontWeight": "bold", "dx": 0, "dy": 0, "color": "#000"},
 "encoding": {"x": {"datum": -0.2089, "type": "quantitative", "axis": null}, "y": {"datum": 0.07937, "type": "quantitative", "axis": null}}},
{"data": {"values": [{}]}, "mark": {"type": "text", "text": "n", "angle": 270, "align": "left", "baseline": "alphabetic", "fontSize": 9, "fontWeight": "bold", "dx": 10.5, "dy": -6, "color": "#000"},
 "encoding": {"x": {"datum": -0.2089, "type": "quantitative", "axis": null}, "y": {"datum": 0.07937, "type": "quantitative", "axis": null}}},
{"data": {"values": [{}]}, "mark": {"type": "text", "text": "E", "angle": 270, "align": "left", "baseline": "alphabetic", "fontSize": 9, "fontWeight": "bold", "dx": 10.5, "dy": 3, "color": "#000"},
 "encoding": {"x": {"datum": -0.2089, "type": "quantitative", "axis": null}, "y": {"datum": 0.07937, "type": "quantitative", "axis": null}}}
],
"resolve": {"axis": {"x": "independent", "y": "independent"}}
}
],
"resolve": {"scale": {"x": "independent", "y": "independent", "stroke": "independent", "strokeDash": "independent", "shape": "independent", "fill": "independent"}, "axis": {"x": "independent", "y": "independent"}}
}
